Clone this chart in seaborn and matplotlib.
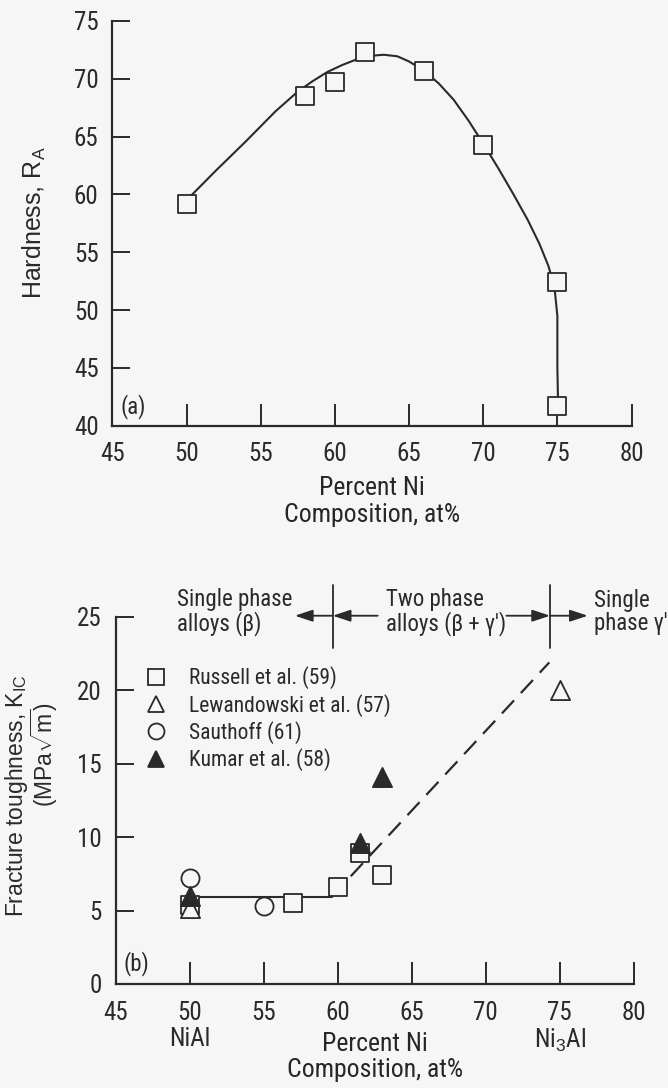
import numpy as np
import seaborn as sns
import matplotlib.pyplot as plt
from matplotlib.lines import Line2D

# ---- data ----
# (a) hardness vs composition
hard_x = [50, 58, 60, 62, 66, 70, 75, 75]
hard_y = [59.2, 68.5, 69.7, 72.3, 70.7, 64.3, 52.4, 41.7]
# hand-drawn curve through the hardness data
curve_x = [50.3, 52.0, 54.0, 56.0, 57.5, 58.5, 59.5, 60.5, 61.5, 62.5, 63.3, 64.2,
           65.0, 66.0, 67.0, 68.0, 69.0, 70.0, 71.0, 72.0, 73.0, 73.8, 74.4, 74.8,
           75.0, 75.0, 75.05]
curve_y = [59.9, 62.1, 64.6, 67.2, 68.9, 69.8, 70.6, 71.2, 71.7, 72.0, 72.08, 71.95,
           71.5, 70.7, 69.6, 68.2, 66.4, 64.4, 62.3, 60.1, 57.8, 55.7, 53.8, 52.0,
           49.5, 45.0, 41.7]

# (b) fracture toughness vs composition
russell_x = [50, 57, 60, 61.5, 63]
russell_y = [5.4, 5.5, 6.6, 8.9, 7.4]
lewand_x = [50, 75]
lewand_y = [5.2, 20.0]
sauthoff_x = [50, 55]
sauthoff_y = [7.2, 5.3]
kumar_x = [50, 61.5, 63]
kumar_y = [6.0, 9.6, 14.1]
plateau_x = [50, 59.6]
plateau_y = [5.95, 5.95]
rise_x = [59.6, 74.3]
rise_y = [5.95, 21.9]

x_ticks = [45, 50, 55, 60, 65, 70, 75, 80]
x_ticklabels_b = ['45', '50\nNiAl', '55', '60', '65', '70', '75\nNi$_3$Al', '80']
legend_labels = ['Russell et al. (59)', 'Lewandowski et al. (57)',
                 'Sauthoff (61)', 'Kumar et al. (58)']

bg = '#f6f6f6'
ink = '#2a2a2a'
narrow = ['Liberation Sans Narrow', 'Roboto Condensed', 'Liberation Sans', 'DejaVu Sans']
regular = ['Liberation Sans', 'DejaVu Sans']
fs_tick = 18
fs_label = 18.5
fs_note = 16.5
fs_leg = 15.5

sns.set_theme(style='ticks')
plt.rcParams['font.family'] = narrow
plt.rcParams['mathtext.fontset'] = 'custom'
plt.rcParams['mathtext.rm'] = 'Liberation Sans'
plt.rcParams['text.color'] = ink
plt.rcParams['axes.edgecolor'] = ink
plt.rcParams['xtick.color'] = ink
plt.rcParams['ytick.color'] = ink

fig = plt.figure(figsize=(6.68, 10.88), dpi=100, facecolor=bg)
ax1 = fig.add_axes([0.1684, 0.6087, 0.777, 0.372], facecolor=bg)
ax2 = fig.add_axes([0.1735, 0.0956, 0.775, 0.3374], facecolor=bg)


def style_axes(ax):
    sns.despine(ax=ax)
    for s in ['left', 'bottom']:
        ax.spines[s].set_linewidth(1.6)
    ax.tick_params(axis='y', direction='in', length=13, width=1.4, pad=10,
                   labelsize=fs_tick)
    ax.tick_params(axis='x', direction='in', length=16, width=1.4, pad=12,
                   labelsize=fs_tick)
    ax.set_xlim(45, 80)
    ax.set_xticks(x_ticks)


# ---- (a) ----
sns.lineplot(x=curve_x, y=curve_y, sort=False, estimator=None, color=ink,
             linewidth=1.5, ax=ax1, zorder=2)
sns.scatterplot(x=hard_x, y=hard_y, marker='s', s=170, facecolor=bg,
                edgecolor=ink, linewidth=1.3, ax=ax1, zorder=3, clip_on=False)
style_axes(ax1)
ax1.set_ylim(40, 75)
ax1.set_yticks(np.arange(40, 76, 5))
ax1.set_xlabel('Percent Ni\nComposition, at%', fontsize=fs_label, labelpad=7,
               linespacing=1.15)
ax1.set_ylabel('')
ax1.text(0.015, 0.047, '(a)', transform=ax1.transAxes, fontsize=fs_note,
         va='center', ha='left')
fig.text(0.051, 0.795, 'Hardness, R$_{\\mathregular{A}}$', rotation=90,
         ha='center', va='center', fontsize=18, family=regular)

# ---- (b) ----
sns.lineplot(x=plateau_x, y=plateau_y, color=ink, linewidth=1.5, ax=ax2, zorder=2)
sns.lineplot(x=rise_x, y=rise_y, color=ink, linewidth=1.6, ax=ax2, zorder=2,
             linestyle=(0, (8, 4.5)))
sns.scatterplot(x=russell_x, y=russell_y, marker='s', s=170, facecolor=bg,
                edgecolor=ink, linewidth=1.3, ax=ax2, zorder=3)
sns.scatterplot(x=lewand_x, y=lewand_y, marker='^', s=190, facecolor=bg,
                edgecolor=ink, linewidth=1.3, ax=ax2, zorder=3)
sns.scatterplot(x=sauthoff_x, y=sauthoff_y, marker='o', s=170, facecolor=bg,
                edgecolor=ink, linewidth=1.3, ax=ax2, zorder=3)
sns.scatterplot(x=kumar_x, y=kumar_y, marker='^', s=190, facecolor=ink,
                edgecolor=ink, linewidth=1.3, ax=ax2, zorder=4)
style_axes(ax2)
ax2.set_ylim(0, 25)
ax2.set_yticks(np.arange(0, 26, 5))
ax2.set_xticklabels(x_ticklabels_b)
for lbl in ax2.get_xticklabels():
    lbl.set_linespacing(1.12)
ax2.set_xlabel('Percent Ni\nComposition, at%', fontsize=fs_label, labelpad=-16,
               linespacing=1.1)
ax2.set_ylabel('')
ax2.text(0.015, 0.057, '(b)', transform=ax2.transAxes, fontsize=fs_note,
         va='center', ha='left')
fig.text(0.024, 0.269, 'Fracture toughness, K$_{\\mathregular{IC}}$', rotation=90,
         ha='center', va='center', fontsize=16.5, family=regular)
fig.text(0.066, 0.306, '(MPa$\\sqrt{\\mathregular{m}}$)', rotation=90,
         ha='center', va='center', fontsize=16.5, family=regular)

# legend
handles = [
    Line2D([0], [0], marker='s', ls='none', ms=11.5, mfc=bg, mec=ink, mew=1.3),
    Line2D([0], [0], marker='^', ls='none', ms=11.5, mfc=bg, mec=ink, mew=1.3),
    Line2D([0], [0], marker='o', ls='none', ms=11.5, mfc=bg, mec=ink, mew=1.3),
    Line2D([0], [0], marker='^', ls='none', ms=11.5, mfc=ink, mec=ink, mew=1.3),
]
ax2.legend(handles, legend_labels, loc='upper left', bbox_to_anchor=(0.055, 0.865),
           frameon=False, fontsize=fs_leg, handlelength=1.1, handletextpad=0.95,
           labelspacing=0.2, borderpad=0, borderaxespad=0)

# phase regions above panel (b)
for xd in [59.66, 74.35]:
    ax2.plot([xd, xd], [22.9, 27.2], color=ink, lw=1.3, clip_on=False)
arrow_kw = dict(arrowstyle='-|>,head_length=0.9,head_width=0.3', color=ink, lw=1.3,
                shrinkA=0, shrinkB=0)
for x0, x1 in [(59.66, 57.1), (62.7, 59.66), (71.4, 74.35), (74.35, 76.9)]:
    ax2.annotate('', xy=(x1, 25.08), xytext=(x0, 25.08), arrowprops=arrow_kw,
                 annotation_clip=False)
ax2.text(49.1, 25.34, 'Single phase\nalloys (\u03b2)', fontsize=fs_note, va='center',
         ha='left', linespacing=1.0)
ax2.text(63.24, 25.34, 'Two phase\nalloys (\u03b2 + \u03b3\u2032)', fontsize=fs_note,
         va='center', ha='left', linespacing=1.0)
ax2.text(77.35, 25.34, 'Single\nphase \u03b3\u2032', fontsize=fs_note, va='center',
         ha='left', linespacing=1.0)

plt.savefig('out.png', dpi=100, facecolor=bg)
